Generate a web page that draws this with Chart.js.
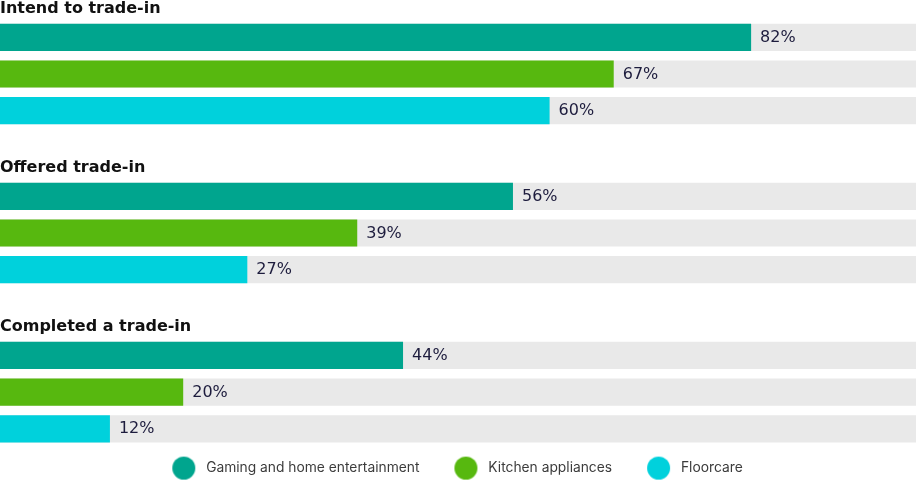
<!DOCTYPE html>
<html><head><meta charset="utf-8">
<script src="https://cdn.jsdelivr.net/npm/chart.js@4.4.1/dist/chart.umd.min.js"></script>
<style>
html,body{margin:0;padding:0;background:#fff;overflow:hidden;}
#wrap{position:relative;width:916px;height:488px;}
.box{position:absolute;left:0;width:916px;}
</style></head><body>
<div id="wrap">
<div class="box" style="top:0;height:129px"><canvas id="c0"></canvas></div>
<div class="box" style="top:159px;height:129px"><canvas id="c1"></canvas></div>
<div class="box" style="top:318px;height:170px"><canvas id="c2"></canvas></div>
</div>
<script>
const groups = ["Intend to trade-in", "Offered trade-in", "Completed a trade-in"];
const seriesNames = ["Gaming and home entertainment", "Kitchen appliances", "Floorcare"];
const gaming = [82, 56, 44];
const kitchen = [67, 39, 20];
const floorcare = [60, 27, 12];
const track = [100, 100, 100];
const seriesColors = ["#00a58e", "#57b80f", "#00d1dc"];
const trackColor = "#e9e9e9";
const TITLE_FONT = "DejaVu Sans";
const VALUE_FONT = "DejaVu Sans";
const LEGEND_FONT = "Inter";

const seriesValues = [gaming, kitchen, floorcare];

function dotImage(color) {
  const c = document.createElement('canvas');
  c.width = 42; c.height = 25;
  const x = c.getContext('2d');
  x.fillStyle = color;
  x.beginPath();
  x.arc(29.5, 12.5, 11.5, 0, Math.PI * 2);
  x.fill();
  return c;
}
const dots = seriesColors.map(dotImage);

const valueLabels = {
  id: 'valueLabels',
  afterDatasetsDraw(chart) {
    const ctx = chart.ctx;
    ctx.save();
    ctx.font = '400 16px "' + VALUE_FONT + '"';
    ctx.fillStyle = '#1d1c3d';
    ctx.textBaseline = 'middle';
    ctx.textAlign = 'left';
    chart.data.datasets.forEach((ds, i) => {
      if (ds.isTrack) return;
      chart.getDatasetMeta(i).data.forEach((el, j) => {
        const v = ds.data[j];
        if (v == null) return;
        ctx.fillText(v + '%', el.x + 9, el.y + 0.5);
      });
    });
    ctx.restore();
  }
};

// nudge the centred legend row slightly left, as in the original
const legendShift = {
  id: 'legendShift',
  afterLayout(chart) {
    const lg = chart.legend;
    if (!lg || !lg.options.display) return;
    lg.left -= 11;
    lg.right -= 11;
  }
};

groups.forEach((g, gi) => {
  const last = gi === groups.length - 1;
  const datasets = seriesNames.map((name, si) => ({
    label: name,
    data: seriesNames.map((_, r) => r === si ? seriesValues[si][gi] : null),
    backgroundColor: seriesColors[si],
    borderWidth: 0,
    categoryPercentage: 1,
    barPercentage: 0.74
  }));
  datasets.push({
    label: 'track',
    isTrack: true,
    data: seriesNames.map(() => track[gi]),
    backgroundColor: trackColor,
    borderWidth: 0,
    categoryPercentage: 1,
    barPercentage: 0.74
  });
  new Chart(document.getElementById('c' + gi), {
    type: 'bar',
    data: { labels: seriesNames, datasets },
    plugins: [valueLabels, legendShift],
    options: {
      indexAxis: 'y',
      responsive: true,
      maintainAspectRatio: false,
      animation: false,
      layout: { padding: { left: 0, right: 0, top: 0, bottom: last ? 3 : 0 } },
      scales: {
        x: { display: false, min: 0, max: 100, stacked: false },
        y: { display: false, stacked: true }
      },
      plugins: {
        tooltip: { enabled: false },
        title: {
          display: true,
          text: g,
          align: 'start',
          color: '#111111',
          font: { family: TITLE_FONT, size: 16, weight: '700', lineHeight: 1 },
          padding: { top: 1, bottom: 2 }
        },
        legend: {
          display: last,
          position: 'bottom',
          align: 'center',
          labels: {
            usePointStyle: true,
            pointStyleWidth: 48,
            padding: 14,
            color: '#3c3c3c',
            font: { family: LEGEND_FONT, size: 13.8 },
            generateLabels: (chart) => seriesNames.map((n, i) => ({
              text: n,
              fillStyle: seriesColors[i],
              strokeStyle: seriesColors[i],
              lineWidth: 0,
              pointStyle: dots[i],
              fontColor: '#3c3c3c',
              datasetIndex: i,
              hidden: false
            }))
          }
        }
      }
    }
  });
});
</script>
</body></html>
